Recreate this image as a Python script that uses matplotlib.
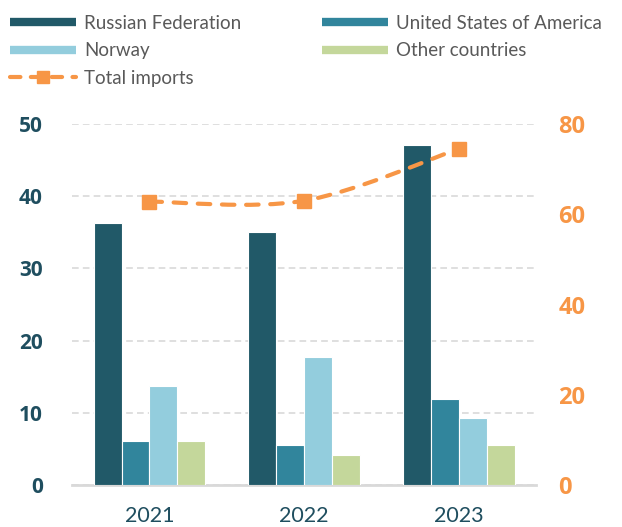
import numpy as np
import matplotlib.pyplot as plt
from matplotlib.path import Path
from matplotlib.patches import PathPatch
from matplotlib.lines import Line2D

plt.rcParams['font.family'] = ['Lato', 'DejaVu Sans']

years = ["2021", "2022", "2023"]
russia = [36.3, 35.0, 47.1]
usa = [6.1, 5.6, 11.9]
norway = [13.7, 17.7, 9.3]
other = [6.1, 4.2, 5.5]
total = [62.8, 63.0, 74.5]

series_names = ["Russian Federation", "United States of America", "Norway", "Other countries"]
series_colors = ["#215968", "#31859C", "#93CDDD", "#C4D79B"]
orange = "#F79646"
teal_text = "#1F4E5F"
num_font = ["Open Sans", "DejaVu Sans"]

fig = plt.figure(figsize=(6.22, 5.27), dpi=100)
ax = fig.add_axes([0.116, 0.0797, 0.746, 0.685])
ax2 = ax.twinx()

x = np.arange(len(years))
bw = 0.18
handles = {}
for i, (vals, name, col) in enumerate(zip([russia, usa, norway, other], series_names, series_colors)):
    ax.bar(x + (i - 1.5) * bw, vals, bw, color=col, edgecolor="white", linewidth=0.8, zorder=3)
    handles[name] = Line2D([], [], color=col, lw=6, solid_capstyle="butt")

ax.set_xlim(-0.5, 2.5)
ax.set_ylim(0, 50)
ax.set_yticks(range(0, 51, 10))
ax.set_xticks(x, years)
ax.grid(axis="y", color="#D9D9D9", linestyle=(0, (4, 2.5)), linewidth=1.2, zorder=0)
ax.set_axisbelow(True)
for s in ax.spines.values():
    s.set_visible(False)
ax.spines["bottom"].set_visible(True)
ax.spines["bottom"].set_color("#D9D9D9")
ax.spines["bottom"].set_linewidth(2)
ax.tick_params(axis="y", length=0, pad=21, labelsize=15, labelcolor=teal_text)
ax.tick_params(axis="x", length=0, pad=15, labelsize=15.5, labelcolor=teal_text)

# total imports on secondary axis, smoothed curve (Catmull-Rom -> Bezier)
ax2.set_ylim(0, 80)
ax2.set_yticks(range(0, 81, 20))
for s in ax2.spines.values():
    s.set_visible(False)
ax2.tick_params(axis="y", length=0, pad=16, labelsize=17, labelcolor=orange)

px = list(x.astype(float))
py = list(total)
verts = [(px[0], py[0])]
codes = [Path.MOVETO]
for k in range(len(px) - 1):
    p0 = (px[max(k - 1, 0)], py[max(k - 1, 0)])
    p1 = (px[k], py[k])
    p2 = (px[k + 1], py[k + 1])
    p3 = (px[min(k + 2, len(px) - 1)], py[min(k + 2, len(px) - 1)])
    c1 = (p1[0] + (p2[0] - p0[0]) / 6, p1[1] + (p2[1] - p0[1]) / 6)
    c2 = (p2[0] - (p3[0] - p1[0]) / 6, p2[1] - (p3[1] - p1[1]) / 6)
    verts += [c1, c2, p2]
    codes += [Path.CURVE4] * 3
curve = PathPatch(Path(verts, codes), facecolor="none", edgecolor=orange, lw=3,
                  linestyle=(0, (3, 2.8)), capstyle="round", zorder=4)
ax2.add_patch(curve)
ax2.plot(x, total, linestyle="none", marker="s", markersize=10, color=orange, zorder=5)

handles["Total imports"] = Line2D([], [], color=orange, lw=3, linestyle=(0, (2.5, 2.5)),
                                  marker="s", markersize=9, dash_capstyle="round")

order = ["Russian Federation", "Norway", "Total imports", "United States of America", "Other countries"]
fig.legend([handles[n] for n in order], order, loc="upper left", bbox_to_anchor=(-0.008, 1.0),
           ncol=2, frameon=False, fontsize=13.5, labelcolor="#595959", handlelength=3.5,
           handletextpad=0.45, columnspacing=4.3, labelspacing=0.55, borderpad=0.3)

# bold numeric tick labels on both y axes
for tk in ax.yaxis.get_major_ticks():
    tk.label1.set_fontweight("bold")
    tk.label1.set_family(num_font)
for tk in ax2.yaxis.get_major_ticks():
    tk.label2.set_fontweight("bold")
    tk.label2.set_family(num_font)

fig.savefig("out.png", dpi=100)
